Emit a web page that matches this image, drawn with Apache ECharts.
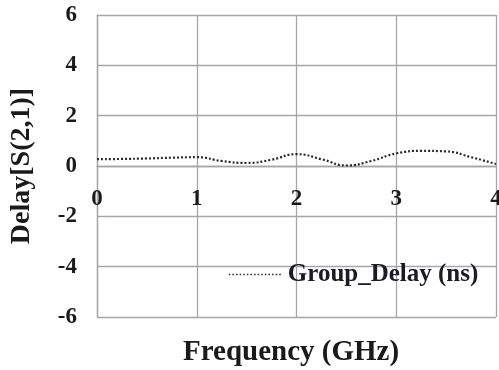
<!DOCTYPE html>
<html><head><meta charset="utf-8">
<script src="https://cdn.jsdelivr.net/npm/echarts@6/dist/echarts.min.js"></script>
<style>html,body{margin:0;padding:0;background:#fff}#c{width:499px;height:370px}</style>
</head><body><div id="c"></div>
<script>
var freq = [0, 0.25, 0.5, 0.75, 1, 1.25, 1.5, 1.75, 2, 2.25, 2.5, 2.75, 3, 3.25, 3.5, 3.75, 4];
var delay = [0.27, 0.28, 0.3, 0.33, 0.35, 0.2, 0.12, 0.25, 0.47, 0.27, 0.02, 0.2, 0.5, 0.6, 0.58, 0.35, 0.08];
var seriesName = 'Group_Delay (ns)';
var xTitle = 'Frequency (GHz)';
var yTitle = 'Delay[S(2,1)]';
var font = 'Liberation Serif';
var chart = echarts.init(document.getElementById('c'));
chart.setOption({
  animation: false,
  grid: {left: 97, right: 3, top: 15, bottom: 53, containLabel: false, outerBoundsMode: 'none'},
  legend: {
    left: 223, top: 257, itemWidth: 54, itemHeight: 10, itemGap: 8,
    lineStyle: {width: 1.6, type: [1.6, 2], color: '#333'},
    itemStyle: {opacity: 0},
    textStyle: {fontFamily: font, fontWeight: 'bold', fontSize: 25, color: '#1a1a2a'},
    data: [seriesName]
  },
  xAxis: {
    type: 'value', min: 0, max: 4, interval: 1, position: 'bottom', offset: -151,
    axisLine: {show: true, onZero: false, lineStyle: {color: '#a3a7ab', width: 1.3}},
    axisTick: {show: false},
    axisLabel: {margin: 22, fontFamily: font, fontWeight: 'bold', fontSize: 23, color: '#1a1a1a'},
    splitLine: {show: true, lineStyle: {color: '#a3a7ab', width: 1.3}}
  },
  yAxis: {
    type: 'value', min: -6, max: 6, interval: 2,
    name: yTitle, nameLocation: 'middle', nameGap: 61,
    nameTextStyle: {fontFamily: font, fontWeight: 'bold', fontSize: 28, color: '#1a1a1a'},
    axisLine: {show: true, onZero: false, lineStyle: {color: '#a3a7ab', width: 1.3}},
    axisTick: {show: false},
    axisLabel: {margin: 20, fontFamily: font, fontWeight: 'bold', fontSize: 23, color: '#1a1a1a'},
    splitLine: {show: true, lineStyle: {color: '#a3a7ab', width: 1.3}}
  },
  graphic: [{
    type: 'text', left: 183, top: 338,
    style: {text: xTitle, font: 'bold 29px "Liberation Serif"', fill: '#1a1a1a'}
  }],
  series: [{
    name: seriesName, type: 'line', smooth: true, symbol: 'none',
    data: freq.map(function (f, i) { return [f, delay[i]]; }),
    lineStyle: {color: '#2a2a2a', width: 2.2, type: [2, 2]},
    itemStyle: {color: '#2a2a2a'}
  }]
});
</script></body></html>
